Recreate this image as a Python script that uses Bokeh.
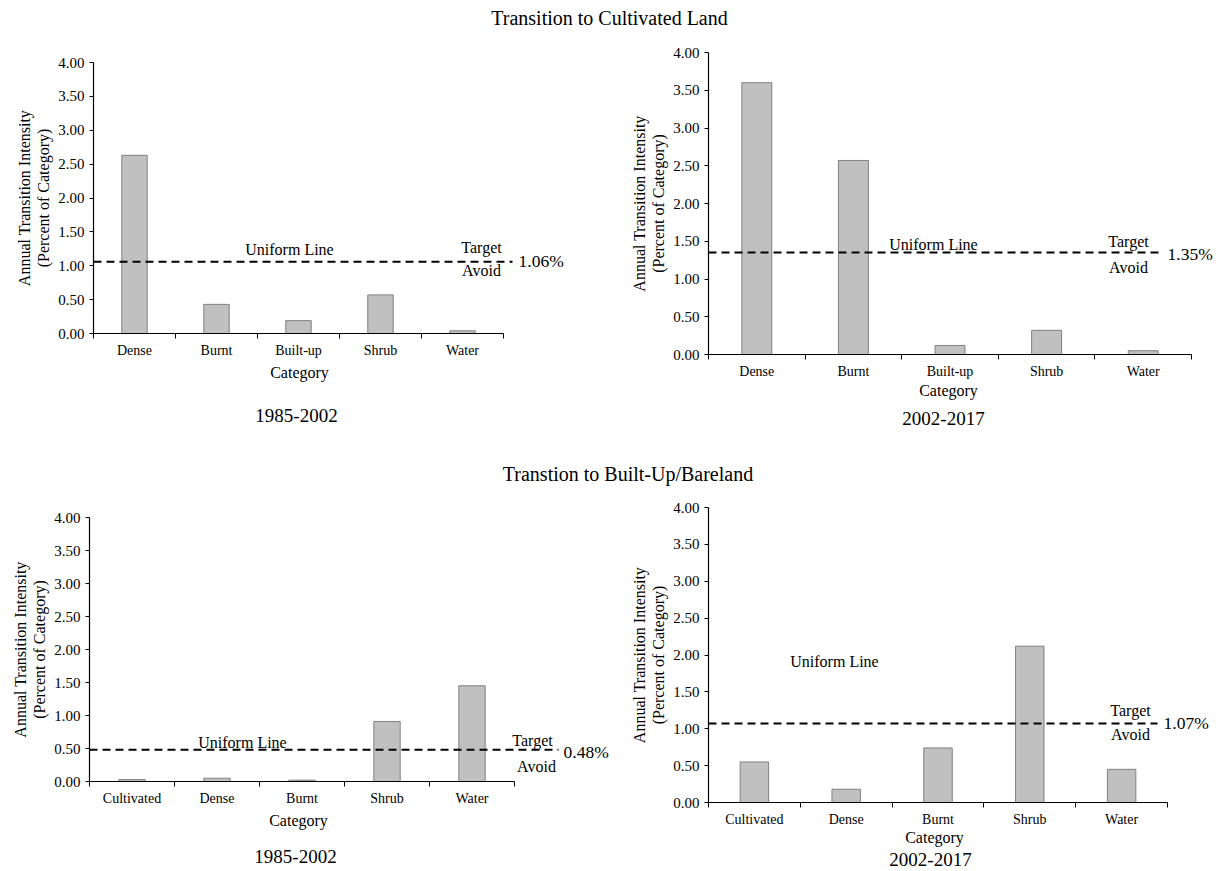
import math
from bokeh.plotting import figure
from bokeh.models import Range1d, FixedTicker, Label, Div, PrintfTickFormatter
from bokeh.layouts import column, row
from bokeh.embed import file_html
from bokeh.resources import INLINE

FONT = "Liberation Serif"

# ---------------- data ----------------
suptitles = ["Transition to Cultivated Land", "Transtion to Built-Up/Bareland"]

cats_to_cultivated = ["Dense", "Burnt", "Built-up", "Shrub", "Water"]
cultivated_1985_2002 = [2.63, 0.43, 0.19, 0.57, 0.04]
cultivated_2002_2017 = [3.60, 2.57, 0.12, 0.32, 0.05]

cats_to_builtup = ["Cultivated", "Dense", "Burnt", "Shrub", "Water"]
builtup_1985_2002 = [0.03, 0.05, 0.02, 0.91, 1.45]
builtup_2002_2017 = [0.55, 0.18, 0.74, 2.12, 0.45]

uniform_values = [1.06, 1.35, 0.48, 1.07]
uniform_labels = ["1.06%", "1.35%", "0.48%", "1.07%"]
periods = ["1985-2002", "2002-2017", "1985-2002", "2002-2017"]
y_ticks = [0.0, 0.5, 1.0, 1.5, 2.0, 2.5, 3.0, 3.5, 4.0]
y_title_lines = ["Annual Transition Intensity", "(Percent of Category)"]
x_title = "Category"

# ---------------- layout geometry (page pixels) ----------------
geoms = [
    dict(origin=(0, 30), size=(609, 415), FL=93, AE=503, FT=62, FB=333, DE=512,
         uniform=(289, 249), target=(481, 247), avoid=(481, 270), pct=(518, 260.5),
         category=(299, 372), caption=(296, 415)),
    dict(origin=(609, 30), size=(610, 415), FL=708, AE=1191, FT=52, FB=354, DE=1162,
         uniform=(933, 244), target=(1128, 241), avoid=(1128, 267), pct=(1167, 253),
         category=(948, 390), caption=(943, 418)),
    dict(origin=(0, 495), size=(609, 376), FL=89, AE=514, FT=517, FB=781, DE=558,
         uniform=(242, 742), target=(532, 739.5), avoid=(536, 766), pct=(563, 751.5),
         category=(298, 820), caption=(295, 856)),
    dict(origin=(609, 495), size=(610, 376), FL=708, AE=1167, FT=507, FB=802, DE=1157,
         uniform=(834, 661), target=(1130, 710), avoid=(1130, 734), pct=(1163, 722),
         category=(934, 837), caption=(930, 859)),
]


def make_panel(cats, vals, uniform, pct_text, period, g):
    ox, oy = g["origin"]
    W, H = g["size"]
    FL, AE, FT, FB, DE = g["FL"], g["AE"], g["FT"], g["FB"], g["DE"]
    n = len(cats)
    c = (AE - FL) / n                 # px per category
    k = (FB - FT) / 4.0               # px per unit
    xs = list(range(1, n + 1))
    x0 = 0.5 - (FL - ox) / c
    y0 = -((oy + H) - FB) / k

    p = figure(width=W, height=H,
               x_range=Range1d(x0, x0 + W / c), y_range=Range1d(y0, y0 + H / k),
               output_backend="svg", toolbar_location=None, title=None,
               min_border_left=0, min_border_right=0,
               min_border_top=0, min_border_bottom=0)
    p.xgrid.visible = False
    p.ygrid.visible = False
    p.outline_line_color = None
    p.background_fill_color = None
    p.border_fill_color = None

    xa = p.xaxis[0]
    xa.fixed_location = 0
    xa.ticker = FixedTicker(ticks=xs, minor_ticks=[i + 0.5 for i in range(n + 1)])
    xa.major_label_overrides = {i: cat for i, cat in zip(xs, cats)}
    xa.bounds = (0.5, n + 0.5)
    xa.major_tick_line_color = None
    xa.major_tick_out = 0
    xa.major_tick_in = 0
    xa.minor_tick_out = 5
    xa.minor_tick_in = 0
    xa.minor_tick_line_color = "black"
    xa.major_label_standoff = 4
    xa.major_label_text_font = FONT
    xa.major_label_text_font_size = "14px"
    xa.major_label_text_color = "black"
    xa.axis_line_color = "black"
    xa.axis_line_width = 1.2

    ya = p.yaxis[0]
    ya.fixed_location = 0.5
    ya.ticker = FixedTicker(ticks=y_ticks)
    ya.formatter = PrintfTickFormatter(format="%.2f")
    ya.bounds = (0, 4)
    ya.major_tick_out = 4
    ya.major_tick_in = 0
    ya.minor_tick_line_color = None
    ya.major_label_standoff = 5
    ya.major_label_text_font = FONT
    ya.major_label_text_font_size = "15px"
    ya.major_label_text_color = "black"
    ya.axis_line_color = "black"
    ya.axis_line_width = 1.2

    p.vbar(x=xs, top=vals, width=0.31, bottom=0,
           fill_color="#c0c0c0", line_color="#808080", line_width=1)
    p.segment(x0=[0.5], y0=[uniform], x1=[0.5 + (DE - FL) / c], y1=[uniform],
              line_color="black", line_width=2, line_dash="8 5")

    def lab(text, X, Y, size, align="center", angle=0.0):
        p.add_layout(Label(x=X - ox, y=(oy + H) - Y, x_units="screen", y_units="screen",
                           text=text, text_font=FONT, text_font_size=size, angle=angle,
                           text_align=align, text_baseline="middle", text_color="black"))

    lab("Uniform Line", *g["uniform"], "16px")
    lab("Target", *g["target"], "16px")
    lab("Avoid", *g["avoid"], "16px")
    lab(pct_text, *g["pct"], "17.5px", align="left")
    lab(x_title, *g["category"], "16px")
    lab(period, *g["caption"], "19px")
    ymid = (FT + FB) / 2.0
    lab(y_title_lines[0], FL - 69, ymid, "16px", angle=math.pi / 2)
    lab(y_title_lines[1], FL - 50, ymid, "16px", angle=math.pi / 2)
    return p


pA = make_panel(cats_to_cultivated, cultivated_1985_2002, uniform_values[0], uniform_labels[0], periods[0], geoms[0])
pB = make_panel(cats_to_cultivated, cultivated_2002_2017, uniform_values[1], uniform_labels[1], periods[1], geoms[1])
pC = make_panel(cats_to_builtup, builtup_1985_2002, uniform_values[2], uniform_labels[2], periods[2], geoms[2])
pD = make_panel(cats_to_builtup, builtup_2002_2017, uniform_values[3], uniform_labels[3], periods[3], geoms[3])


def title_div(text, height, pad_top, pad_left):
    html = ('<div style="box-sizing:border-box;width:1219px;text-align:center;'
            f"font-family:'{FONT}',serif;font-size:20px;line-height:20px;color:#000;"
            f'padding-top:{pad_top}px;padding-left:{pad_left}px;">{text}</div>')
    return Div(text=html, width=1219, height=height, margin=0)


div1 = title_div(suptitles[0], 30, 8, 0)
div2 = title_div(suptitles[1], 50, 19, 37)

layout = column(div1, row(pA, pB), div2, row(pC, pD))

open("out.html", "w").write(file_html(layout, INLINE, title="Transition intensity"))
